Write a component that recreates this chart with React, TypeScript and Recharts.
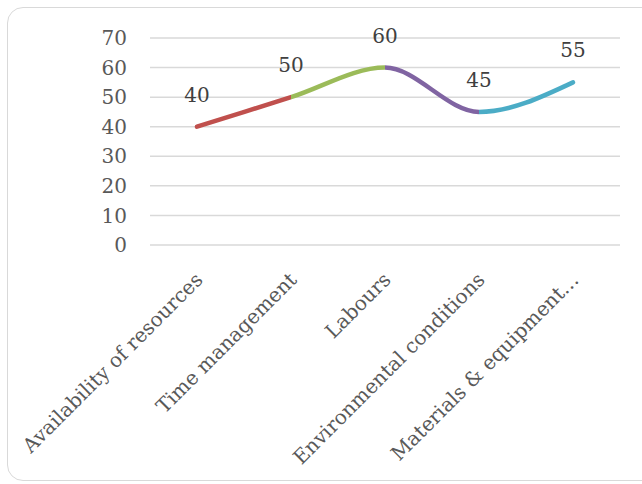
import { CartesianGrid, LabelList, Line, LineChart, XAxis, YAxis } from "recharts";

const categories = [
  "Availability of resources",
  "Time management",
  "Labours",
  "Environmental conditions",
  "Materials & equipment…",
];
const values = [40, 50, 60, 45, 55];
const yTicks = [0, 10, 20, 30, 40, 50, 60, 70];
const segmentColors = ["#C0504D", "#9BBB59", "#8064A2", "#4BACC6"];

const data = categories.map((name, i) => ({ name, value: values[i] }));

const FONT = "'DejaVu Serif', serif";

function RotatedTick({ x, y, payload }: any) {
  return (
    <g transform={`translate(${x + 7},${y + 28})`}>
      <text
        x={0}
        y={0}
        transform="rotate(-45)"
        textAnchor="end"
        fill="#595959"
        fontSize={20}
        fontFamily={FONT}
      >
        {payload.value}
      </text>
    </g>
  );
}

export default function App() {
  const step = 1 / segmentColors.length;
  return (
    <div style={{ position: "absolute", left: 0, top: 0, width: 642, height: 484, background: "#fff" }}>
      <div
        style={{
          position: "absolute",
          left: 7,
          top: 7,
          width: 650,
          height: 472,
          border: "1.5px solid #d9d9d9",
          borderRadius: 16,
        }}
      />
      <LineChart
        width={642}
        height={484}
        data={data}
        margin={{ top: 38, right: 22, bottom: 0, left: 0 }}
        style={{ position: "absolute", left: 0, top: 0 }}
      >
        <defs>
          <linearGradient id="segs" x1="0" y1="0" x2="1" y2="0">
            {segmentColors.flatMap((c, i) => [
              <stop key={`a${i}`} offset={i * step} stopColor={c} />,
              <stop key={`b${i}`} offset={(i + 1) * step} stopColor={c} />,
            ])}
          </linearGradient>
        </defs>
        <CartesianGrid vertical={false} stroke="#d9d9d9" strokeWidth={1.5} />
        <XAxis
          dataKey="name"
          axisLine={false}
          tickLine={false}
          height={239}
          interval={0}
          padding={{ left: 47, right: 47 }}
          tick={<RotatedTick />}
        />
        <YAxis
          domain={[0, 70]}
          ticks={yTicks}
          width={150}
          axisLine={false}
          tickLine={false}
          tickMargin={17}
          tick={{ fill: "#595959", fontSize: 20, fontFamily: FONT }}
        />
        <Line
          type="monotone"
          dataKey="value"
          stroke="url(#segs)"
          strokeWidth={4.5}
          strokeLinecap="round"
          dot={false}
          activeDot={false}
          isAnimationActive={false}
        >
          <LabelList dataKey="value" position="top" offset={25} fill="#404040" fontSize={20} fontFamily={FONT} />
        </Line>
      </LineChart>
    </div>
  );
}
